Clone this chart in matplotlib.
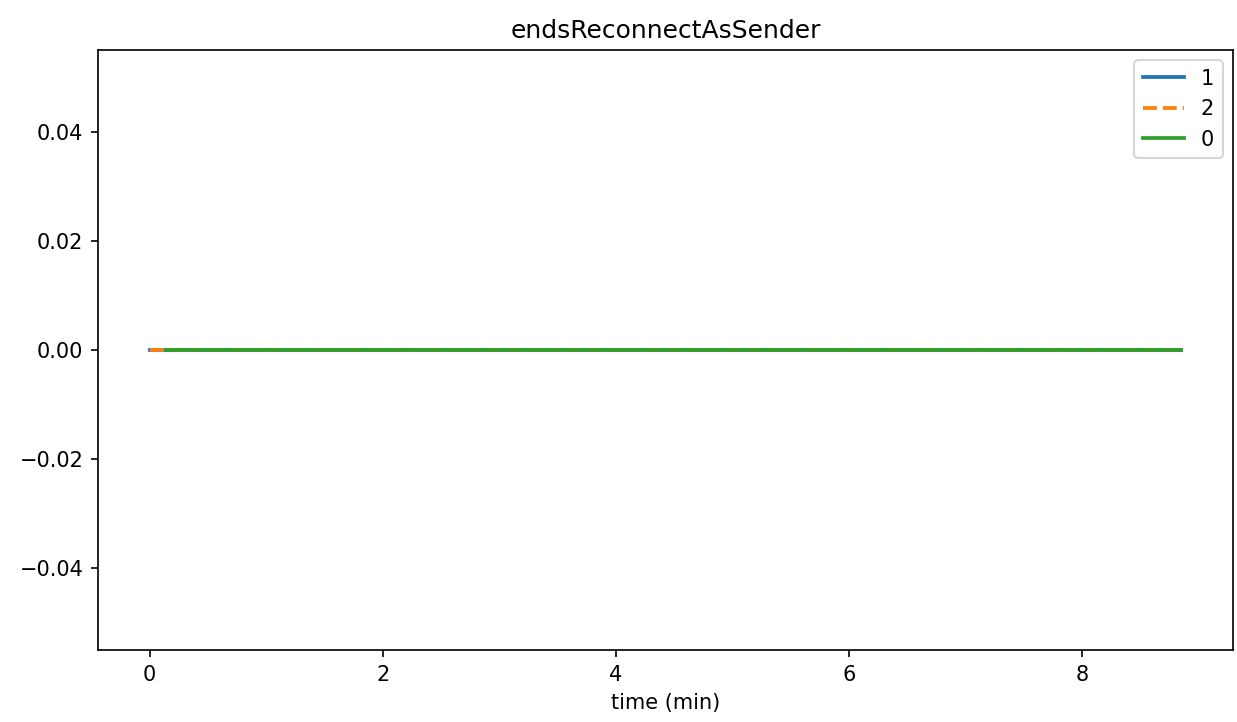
import matplotlib
matplotlib.use('Agg')
import matplotlib.pyplot as plt

# === Data (time in minutes, counter values) ===
t_1 = [0.0, 8.85]
v_1 = [0, 0]
t_2 = [0.0, 8.85]
v_2 = [0, 0]
t_0 = [0.14, 8.85]
v_0 = [0, 0]

W, H = 1237, 722
DPI = 150
fig = plt.figure(figsize=(W / DPI, H / DPI), dpi=DPI)
ax = fig.add_axes([98 / W, 1 - 650 / H, (1233 - 98) / W, (650 - 50) / H])

ax.plot(t_1, v_1, color='tab:blue', linestyle='-', linewidth=1.8, label='1')
ax.plot(t_2, v_2, color='tab:orange', linestyle='--', linewidth=1.8, label='2')
ax.plot(t_0, v_0, color='tab:green', linestyle='-', linewidth=1.8, label='0')

ax.set_title('endsReconnectAsSender')
ax.set_xlabel('time (min)')
ax.legend(loc='upper right')

# xlabel of the subplot above, mostly cut off at the top edge
fig.text((98 + 1233) / 2 / W, 1 + 0.5 / H, 'time (min)', ha='center', va='bottom', fontsize=10)

fig.savefig('out.png', dpi=DPI)
